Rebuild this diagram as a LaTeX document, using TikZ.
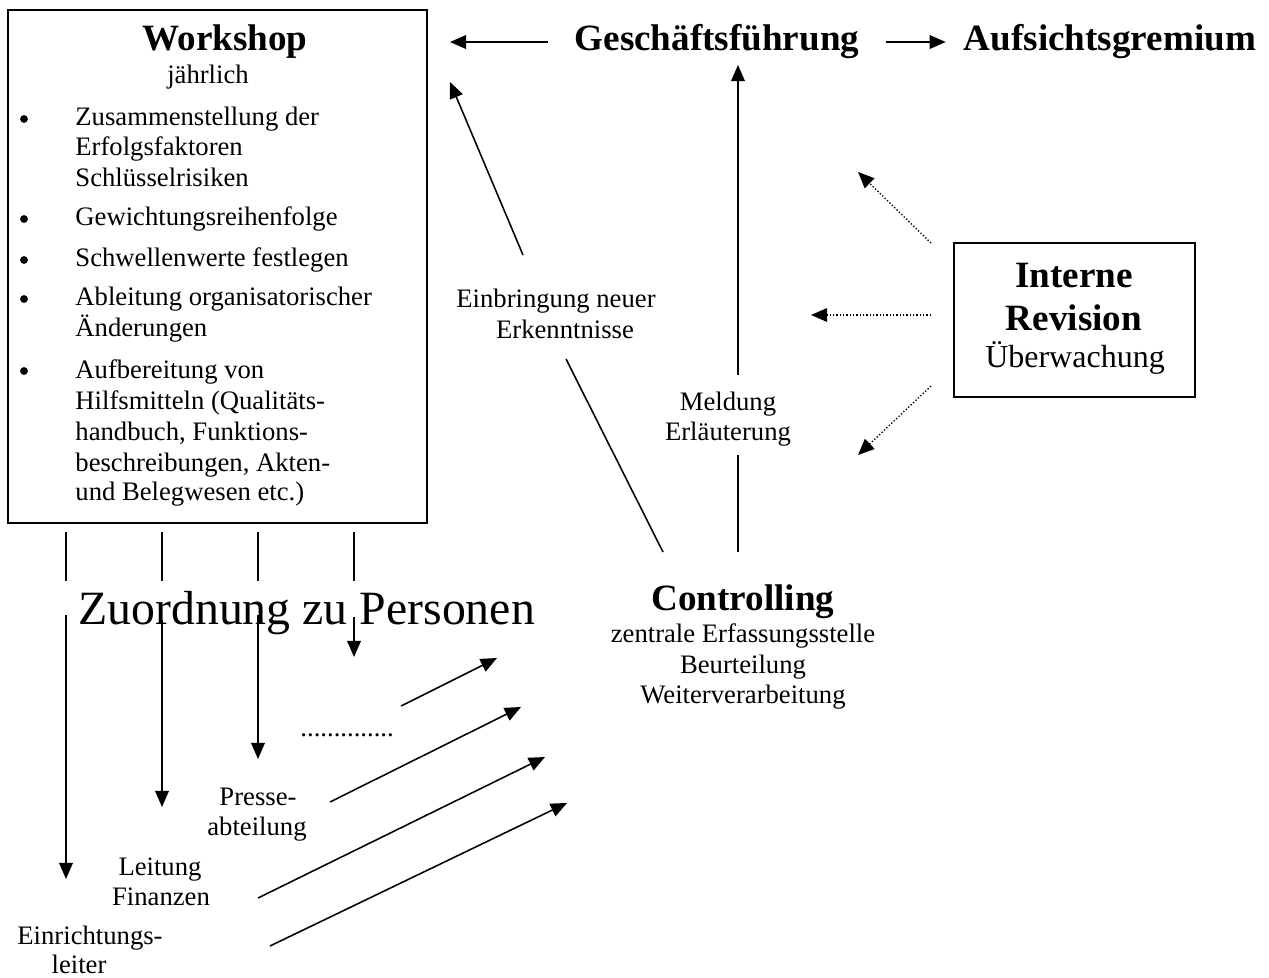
\documentclass[tikz,border=0pt]{standalone}
\usepackage{fontspec}
\setmainfont{Liberation Serif}
\usetikzlibrary{arrows.meta}
\begin{document}
\begin{tikzpicture}[x=0.45pt,y=-0.45pt,
  txt/.style={inner sep=0pt, anchor=base, font=\fontsize{12}{14}\selectfont},
  txtw/.style={txt, anchor=base west},
  head/.style={inner sep=0pt, anchor=base, font=\fontsize{16.7}{19}\selectfont\bfseries},
  big/.style={inner sep=0pt, anchor=base west, font=\fontsize{21.5}{24}\selectfont},
  boxed/.style={draw, line width=0.9pt, inner sep=0pt},
  bul/.style={circle, fill, inner sep=0pt, minimum size=3.5pt},
  conn/.style={line width=0.7pt, -{Triangle[length=7.3pt,width=6.2pt]}},
  plainline/.style={line width=0.7pt},
  dotarrow/.style={line width=0.6pt, dash pattern=on 0.6pt off 0.9pt, -{Triangle[length=7.3pt,width=6.2pt]}}
  ]
\useasboundingbox (0,0) rectangle (1269,978);

% Workshop box
\node[boxed, minimum width=188.55pt, minimum height=230.85pt] (ws) at (217.5,266.5) {};
\node[head] (wst) at (225,51) {Workshop};
\node[txt] (wsj) at (208,84) {jährlich};
\node[bul] (b1) at (24,119) {};
\node[txtw] (l1) at (75,126) {Zusammenstellung der};
\node[txtw] (l2) at (75,156) {Erfolgsfaktoren};
\node[txtw] (l3) at (75,187) {Schlüsselrisiken};
\node[bul] (b2) at (24,219) {};
\node[txtw] (l4) at (75,226) {Gewichtungsreihenfolge};
\node[bul] (b3) at (24,260) {};
\node[txtw] (l5) at (75,267) {Schwellenwerte festlegen};
\node[bul] (b4) at (24,299) {};
\node[txtw] (l6) at (75,306) {Ableitung organisatorischer};
\node[txtw] (l7) at (75,337) {Änderungen};
\node[bul] (b5) at (24,371) {};
\node[txtw] (l8) at (75,378) {Aufbereitung von};
\node[txtw] (l9) at (75,409) {Hilfsmitteln (Qualitäts-};
\node[txtw] (l10) at (75,440) {handbuch, Funktions-};
\node[txtw] (l11) at (75,471) {beschreibungen, Akten-};
\node[txtw] (l12) at (75,500) {und Belegwesen etc.)};

% Top row
\node[head, inner xsep=12pt] (gf) at (717,51) {Geschäftsführung};
\node[head, inner xsep=8pt] (auf) at (1110,51) {Aufsichtsgremium};
\coordinate (wsTip) at (450,41);
\draw[conn] (gf.west) -- (gf.west -| wsTip);
\draw[conn] (gf.east) -- (auf.west);

% Controlling
\node[head] (ctrl) at (743,610) {Controlling};
\node[txt] (c1) at (743,642) {zentrale Erfassungsstelle};
\node[txt] (c2) at (743,673) {Beurteilung};
\node[txt] (c3) at (743,703) {Weiterverarbeitung};

% Meldung / Erläuterung
\node[txt] (meld) at (728,410) {Meldung};
\node[txt] (erl) at (728,440) {Erläuterung};
\coordinate (ctrlTop) at (738,552);
\coordinate (mLow) at (738,455);
\coordinate (mHigh) at (738,375);
\coordinate (gfBot) at (738,65);
\draw[plainline] (ctrlTop) -- (mLow);
\draw[conn] (mHigh) -- (gfBot);

% Einbringung neuer Erkenntnisse
\node[txt] (ein1) at (556,308) {Einbringung neuer};
\node[txt] (ein2) at (565,339) {Erkenntnisse};
\coordinate (ctrlNW) at (663,552);
\coordinate (eLow) at (566,359);
\coordinate (eHigh) at (523,255);
\coordinate (wsNE) at (450,82);
\draw[plainline] (ctrlNW) -- (eLow);
\draw[conn] (eHigh) -- (wsNE);

% Interne Revision
\node[boxed, minimum width=108.45pt, minimum height=69.3pt] (ir) at (1074.5,320) {};
\node[head] (ir1) at (1074,288) {Interne};
\node[head] (ir2) at (1074,331) {Revision};
\node[txt, font=\fontsize{14.4}{17}\selectfont] (ir3) at (1075,368) {Überwachung};
\coordinate (irA) at (931,243);
\coordinate (irB) at (931,315);
\coordinate (irC) at (931,386);
\coordinate (tA) at (858,172);
\coordinate (tB) at (811,315);
\coordinate (tC) at (858,455);
\draw[dotarrow] (irA) -- (tA);
\draw[dotarrow] (irB) -- (tB);
\draw[dotarrow] (irC) -- (tC);

% Zuordnung zu Personen
\node[big] (zp) at (78,624) {Zuordnung zu Personen};
\foreach \i/\x/\s/\e in {1/66/615/879, 2/162/620/807, 3/258/615/759, 4/354/617/657}{
  \coordinate (u\i) at (\x,532);
  \coordinate (v\i) at (\x,581);
  \coordinate (s\i) at (\x,\s);
  \coordinate (e\i) at (\x,\e);
  \draw[plainline] (u\i) -- (v\i);
  \draw[conn] (s\i) -- (e\i);
}

% Persons
\node[txt] (p1) at (258,805) {Presse-};
\node[txt] (p2) at (257,835) {abteilung};
\node[txt] (f1) at (160,875) {Leitung};
\node[txt] (f2) at (161,905) {Finanzen};
\node[txt] (r1) at (90,944) {Einrichtungs-};
\node[txt] (r2) at (79,973) {leiter};
\node[txtw] (dots) at (300,736) {..............};

% Arrows to Controlling
\coordinate (a1s) at (401,706); \coordinate (a1e) at (497,658);
\coordinate (a2s) at (330,802); \coordinate (a2e) at (521,707);
\coordinate (a3s) at (258,898); \coordinate (a3e) at (545,757);
\coordinate (a4s) at (270,946); \coordinate (a4e) at (567,803);
\draw[conn] (a1s) -- (a1e);
\draw[conn] (a2s) -- (a2e);
\draw[conn] (a3s) -- (a3e);
\draw[conn] (a4s) -- (a4e);
\end{tikzpicture}
\end{document}
